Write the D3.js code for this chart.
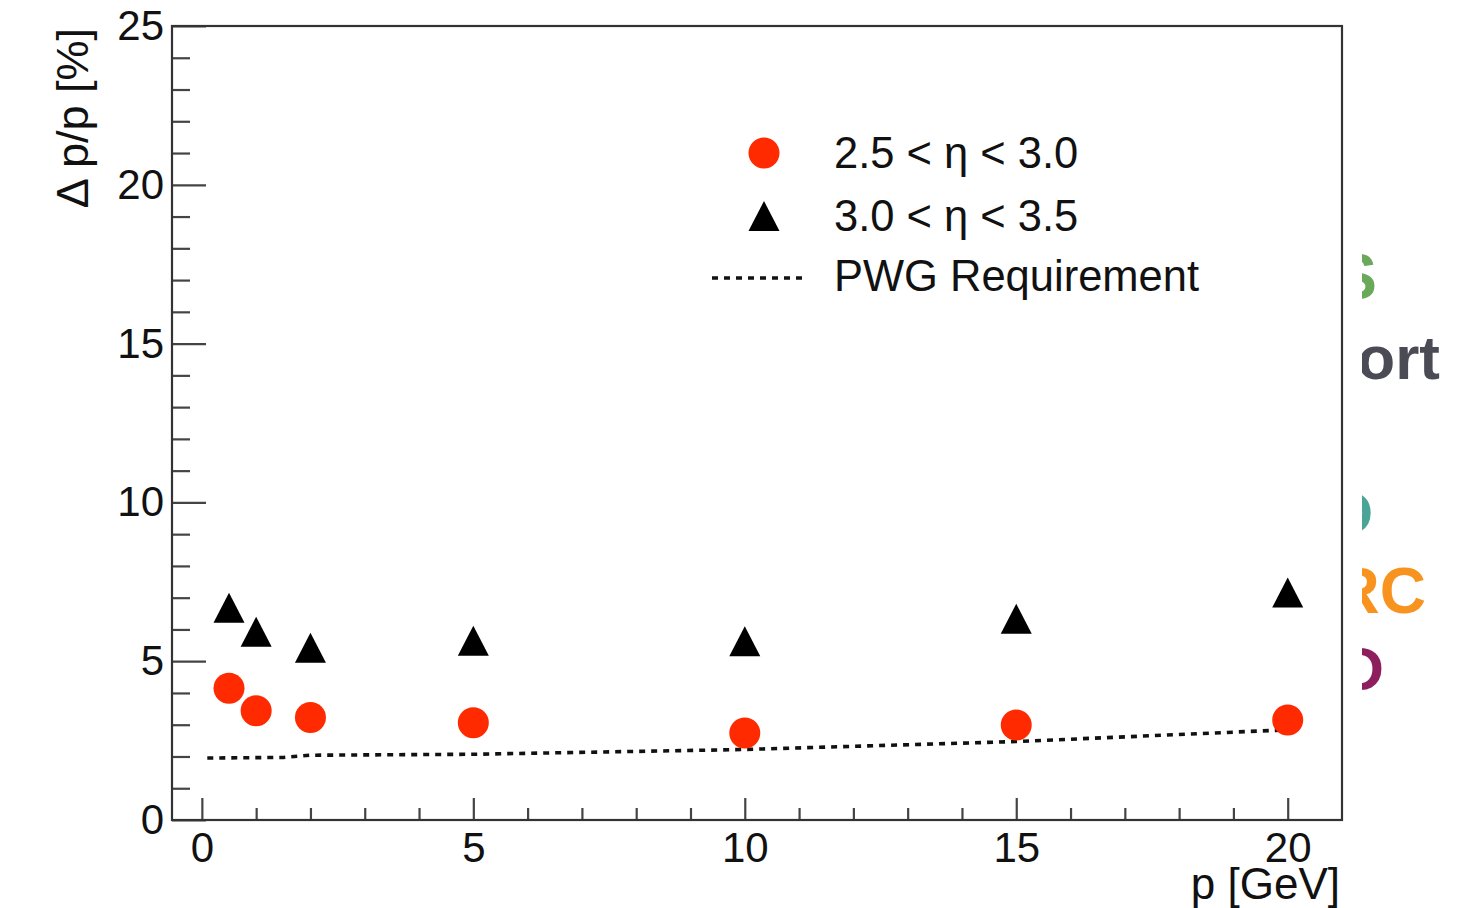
<!DOCTYPE html>
<html>
<head>
<meta charset="utf-8">
<script src="https://cdn.jsdelivr.net/npm/d3@7"></script>
<style>
  html, body { margin: 0; padding: 0; background: #ffffff; }
  svg { display: block; }
  text { font-family: "Liberation Sans", Arial, Helvetica, sans-serif; }
</style>
</head>
<body>
<svg id="chart" width="1471" height="908"></svg>
<script>
// ---------------- data ----------------
const momenta = [0.5, 1, 2, 5, 10, 15, 20];                 // p [GeV]
const eta25to30 = [4.15, 3.44, 3.23, 3.06, 2.74, 2.99, 3.15]; // Δp/p [%], 2.5<η<3.0
const eta30to35 = [6.68, 5.93, 5.42, 5.64, 5.63, 6.34, 7.16]; // Δp/p [%], 3.0<η<3.5
const reqMomenta = [0.1, 1.5, 2, 5, 10, 15, 20];              // PWG requirement points (read)
const reqValues  = [1.95, 1.97, 2.04, 2.07, 2.22, 2.47, 2.84];
const xMajorTicks = [0, 5, 10, 15, 20];
const xMinorTicks = [1, 2, 3, 4, 6, 7, 8, 9, 11, 12, 13, 14, 16, 17, 18, 19];
const yMajorTicks = [0, 5, 10, 15, 20, 25];
const yMinorTicks = [1, 2, 3, 4, 6, 7, 8, 9, 11, 12, 13, 14, 16, 17, 18, 19, 21, 22, 23, 24];
const legendLabels = ["2.5 < η < 3.0", "3.0 < η < 3.5", "PWG Requirement"];
const xTitle = "p [GeV]";
const yTitle = "Δ p/p [%]";

// ---------------- layout ----------------
const L = 172, R = 1342, T = 26, B = 820;
const svg = d3.select("#chart");
const x = d3.scaleLinear().domain([-0.55, 21]).range([L, R]);
const y = d3.scaleLinear().domain([0, 25]).range([B, T]);
const red = "#ff2a00";
const fontSize = 42;

// ---------------- axes ----------------
const xMajor = d3.axisBottom(x).tickValues(xMajorTicks).tickFormat(d3.format("d"))
  .tickSizeInner(-22).tickSizeOuter(0).tickPadding(12);
const xMinor = d3.axisBottom(x).tickValues(xMinorTicks).tickFormat("")
  .tickSizeInner(-12).tickSizeOuter(0);
const yMajor = d3.axisLeft(y).tickValues(yMajorTicks).tickFormat(d3.format("d"))
  .tickSizeInner(-34).tickSizeOuter(0).tickPadding(8);
const yMinor = d3.axisLeft(y).tickValues(yMinorTicks).tickFormat("")
  .tickSizeInner(-18).tickSizeOuter(0);

function styleAxis(g) {
  g.select(".domain").remove();
  g.selectAll(".tick line").attr("stroke", "#444").attr("stroke-width", 2.2);
  g.selectAll(".tick text").attr("fill", "#111").style("font-size", fontSize + "px")
    .style("font-family", "'Liberation Sans', Arial, Helvetica, sans-serif");
}
svg.append("g").attr("transform", `translate(0,${B})`).call(xMinor).call(styleAxis);
svg.append("g").attr("transform", `translate(0,${B})`).call(xMajor).call(styleAxis);
svg.append("g").attr("transform", `translate(${L},0)`).call(yMinor).call(styleAxis);
svg.append("g").attr("transform", `translate(${L},0)`).call(yMajor).call(styleAxis);

// frame
svg.append("rect").attr("x", L).attr("y", T).attr("width", R - L).attr("height", B - T)
  .attr("fill", "none").attr("stroke", "#333").attr("stroke-width", 2.2);

// axis titles
svg.append("text").attr("x", 1340).attr("y", 899).attr("text-anchor", "end")
  .attr("fill", "#111").style("font-size", "44px").text(xTitle);
svg.append("text").attr("transform", "translate(88,28) rotate(-90)").attr("text-anchor", "end")
  .attr("fill", "#111").style("font-size", "45px").text(yTitle);

// ---------------- requirement line ----------------
const line = d3.line().x(d => x(d[0])).y(d => y(d[1]));
svg.append("path").datum(d3.zip(reqMomenta, reqValues)).attr("d", line)
  .attr("fill", "none").attr("stroke", "#111").attr("stroke-width", 3.6)
  .attr("stroke-dasharray", "6,6");

// ---------------- markers ----------------
const tri = "M0,-15L15.5,15L-15.5,15Z";
svg.append("g").selectAll("path").data(d3.zip(momenta, eta30to35)).join("path")
  .attr("d", tri).attr("transform", d => `translate(${x(d[0])},${y(d[1])})`)
  .attr("fill", "#000");
svg.append("g").selectAll("circle").data(d3.zip(momenta, eta25to30)).join("circle")
  .attr("cx", d => x(d[0])).attr("cy", d => y(d[1])).attr("r", 15.5)
  .attr("fill", red);

// ---------------- legend ----------------
const lg = svg.append("g");
lg.append("circle").attr("cx", 764).attr("cy", 153).attr("r", 15.5).attr("fill", red);
lg.append("path").attr("d", tri).attr("transform", "translate(764,216)").attr("fill", "#000");
lg.append("line").attr("x1", 712).attr("x2", 808).attr("y1", 278).attr("y2", 278)
  .attr("stroke", "#111").attr("stroke-width", 3.6).attr("stroke-dasharray", "6,6");
const legendY = [168, 231, 291];
lg.selectAll("text").data(legendLabels).join("text")
  .attr("x", 834).attr("y", (d, i) => legendY[i]).attr("fill", "#111")
  .style("font-size", "43.5px").text(d => d);

// ---------------- background poster fragments (cut at right edge) ----------------
svg.append("clipPath").attr("id", "edgeclip").append("rect")
  .attr("x", 1362).attr("y", 0).attr("width", 120).attr("height", 908);
const frag = svg.append("g").attr("clip-path", "url(#edgeclip)")
  .style("font-weight", "bold");
const fragments = [
  { t: "S",   xe: 1377, yb: 299, c: "#6aa85a", s: 64 },
  { t: "ort", xe: 1440, yb: 379, c: "#4b4b55", s: 62 },
  { t: "O",   xe: 1373, yb: 533, c: "#4aa597", s: 58 },
  { t: "RC",  xe: 1426, yb: 613, c: "#f7931e", s: 64 },
  { t: "D",   xe: 1384, yb: 690, c: "#8e1f5e", s: 62 }
];
frag.selectAll("text").data(fragments).join("text")
  .attr("x", d => d.xe).attr("y", d => d.yb).attr("text-anchor", "end")
  .attr("fill", d => d.c).style("font-size", d => d.s + "px").text(d => d.t);
</script>
</body>
</html>
